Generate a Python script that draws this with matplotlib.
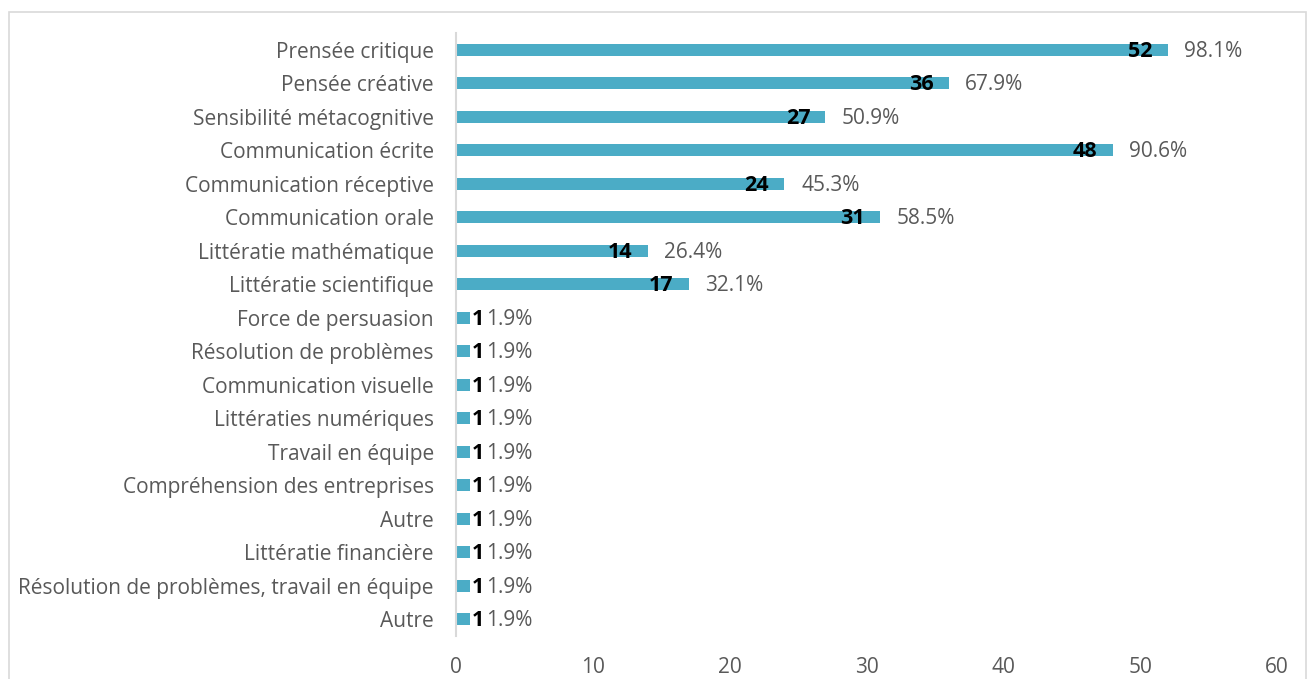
import matplotlib.pyplot as plt
from matplotlib.patches import Rectangle

# compétences et nombre de réponses
categories = [
    'Prensée critique', 'Pensée créative', 'Sensibilité métacognitive',
    'Communication écrite', 'Communication réceptive', 'Communication orale',
    'Littératie mathématique', 'Littératie scientifique', 'Force de persuasion',
    'Résolution de problèmes', 'Communication visuelle', 'Littératies numériques',
    'Travail en équipe', 'Compréhension des entreprises', 'Autre',
    'Littératie financière', 'Résolution de problèmes, travail en équipe', 'Autre',
]
counts = [52, 36, 27, 48, 24, 31, 14, 17, 1, 1, 1, 1, 1, 1, 1, 1, 1, 1]
percents = [98.1, 67.9, 50.9, 90.6, 45.3, 58.5, 26.4, 32.1,
            1.9, 1.9, 1.9, 1.9, 1.9, 1.9, 1.9, 1.9, 1.9, 1.9]
xticks = [0, 10, 20, 30, 40, 50, 60]

BAR = '#4BACC6'
GREY = '#595959'
FS = 15

plt.rcParams['font.family'] = ['Open Sans', 'DejaVu Sans']

fig = plt.figure(figsize=(13.08, 6.79), dpi=100)
ax = fig.add_axes([456/1308, 1 - 636/679, (1277 - 456)/1308, (636 - 33)/679])

y = list(range(len(categories)))
ax.barh(y, counts, height=0.36, color=BAR)

# étiquettes : nombre en gras au bout de la barre, pourcentage à droite
for yi, c, p in zip(y, counts, percents):
    if c >= 5:
        ax.annotate(str(c), (c, yi), xytext=(-11, -1), textcoords='offset points',
                    ha='right', va='center', fontsize=15.5, fontweight='bold', color='black')
    else:
        ax.annotate(str(c), (c, yi), xytext=(1.5, -1), textcoords='offset points',
                    ha='left', va='center', fontsize=15.5, fontweight='bold', color='black')
    ax.annotate(f'{p:.1f}%', (c, yi), xytext=(12, -1), textcoords='offset points',
                ha='left', va='center', fontsize=FS, color=GREY)

ax.set_ylim(len(categories) - 0.5, -0.5)
ax.set_yticks(y)
ax.set_yticklabels(categories, fontsize=FS, color=GREY)
ax.set_xlim(0, 60)
ax.set_xticks(xticks)
ax.tick_params(axis='x', length=0, pad=15, labelsize=FS, labelcolor=GREY)
ax.tick_params(axis='y', length=0, pad=16)

for s in ['top', 'right', 'bottom']:
    ax.spines[s].set_visible(False)
ax.spines['left'].set_color('#D9D9D9')
ax.spines['left'].set_linewidth(1.5)

# cadre du graphique
fig.patches.append(Rectangle((9/1308, -0.1), (1306 - 9)/1308, 1.1 - 12/679,
                             transform=fig.transFigure, fill=False,
                             edgecolor='#D9D9D9', linewidth=1.2))

fig.savefig('out.png', dpi=100)
